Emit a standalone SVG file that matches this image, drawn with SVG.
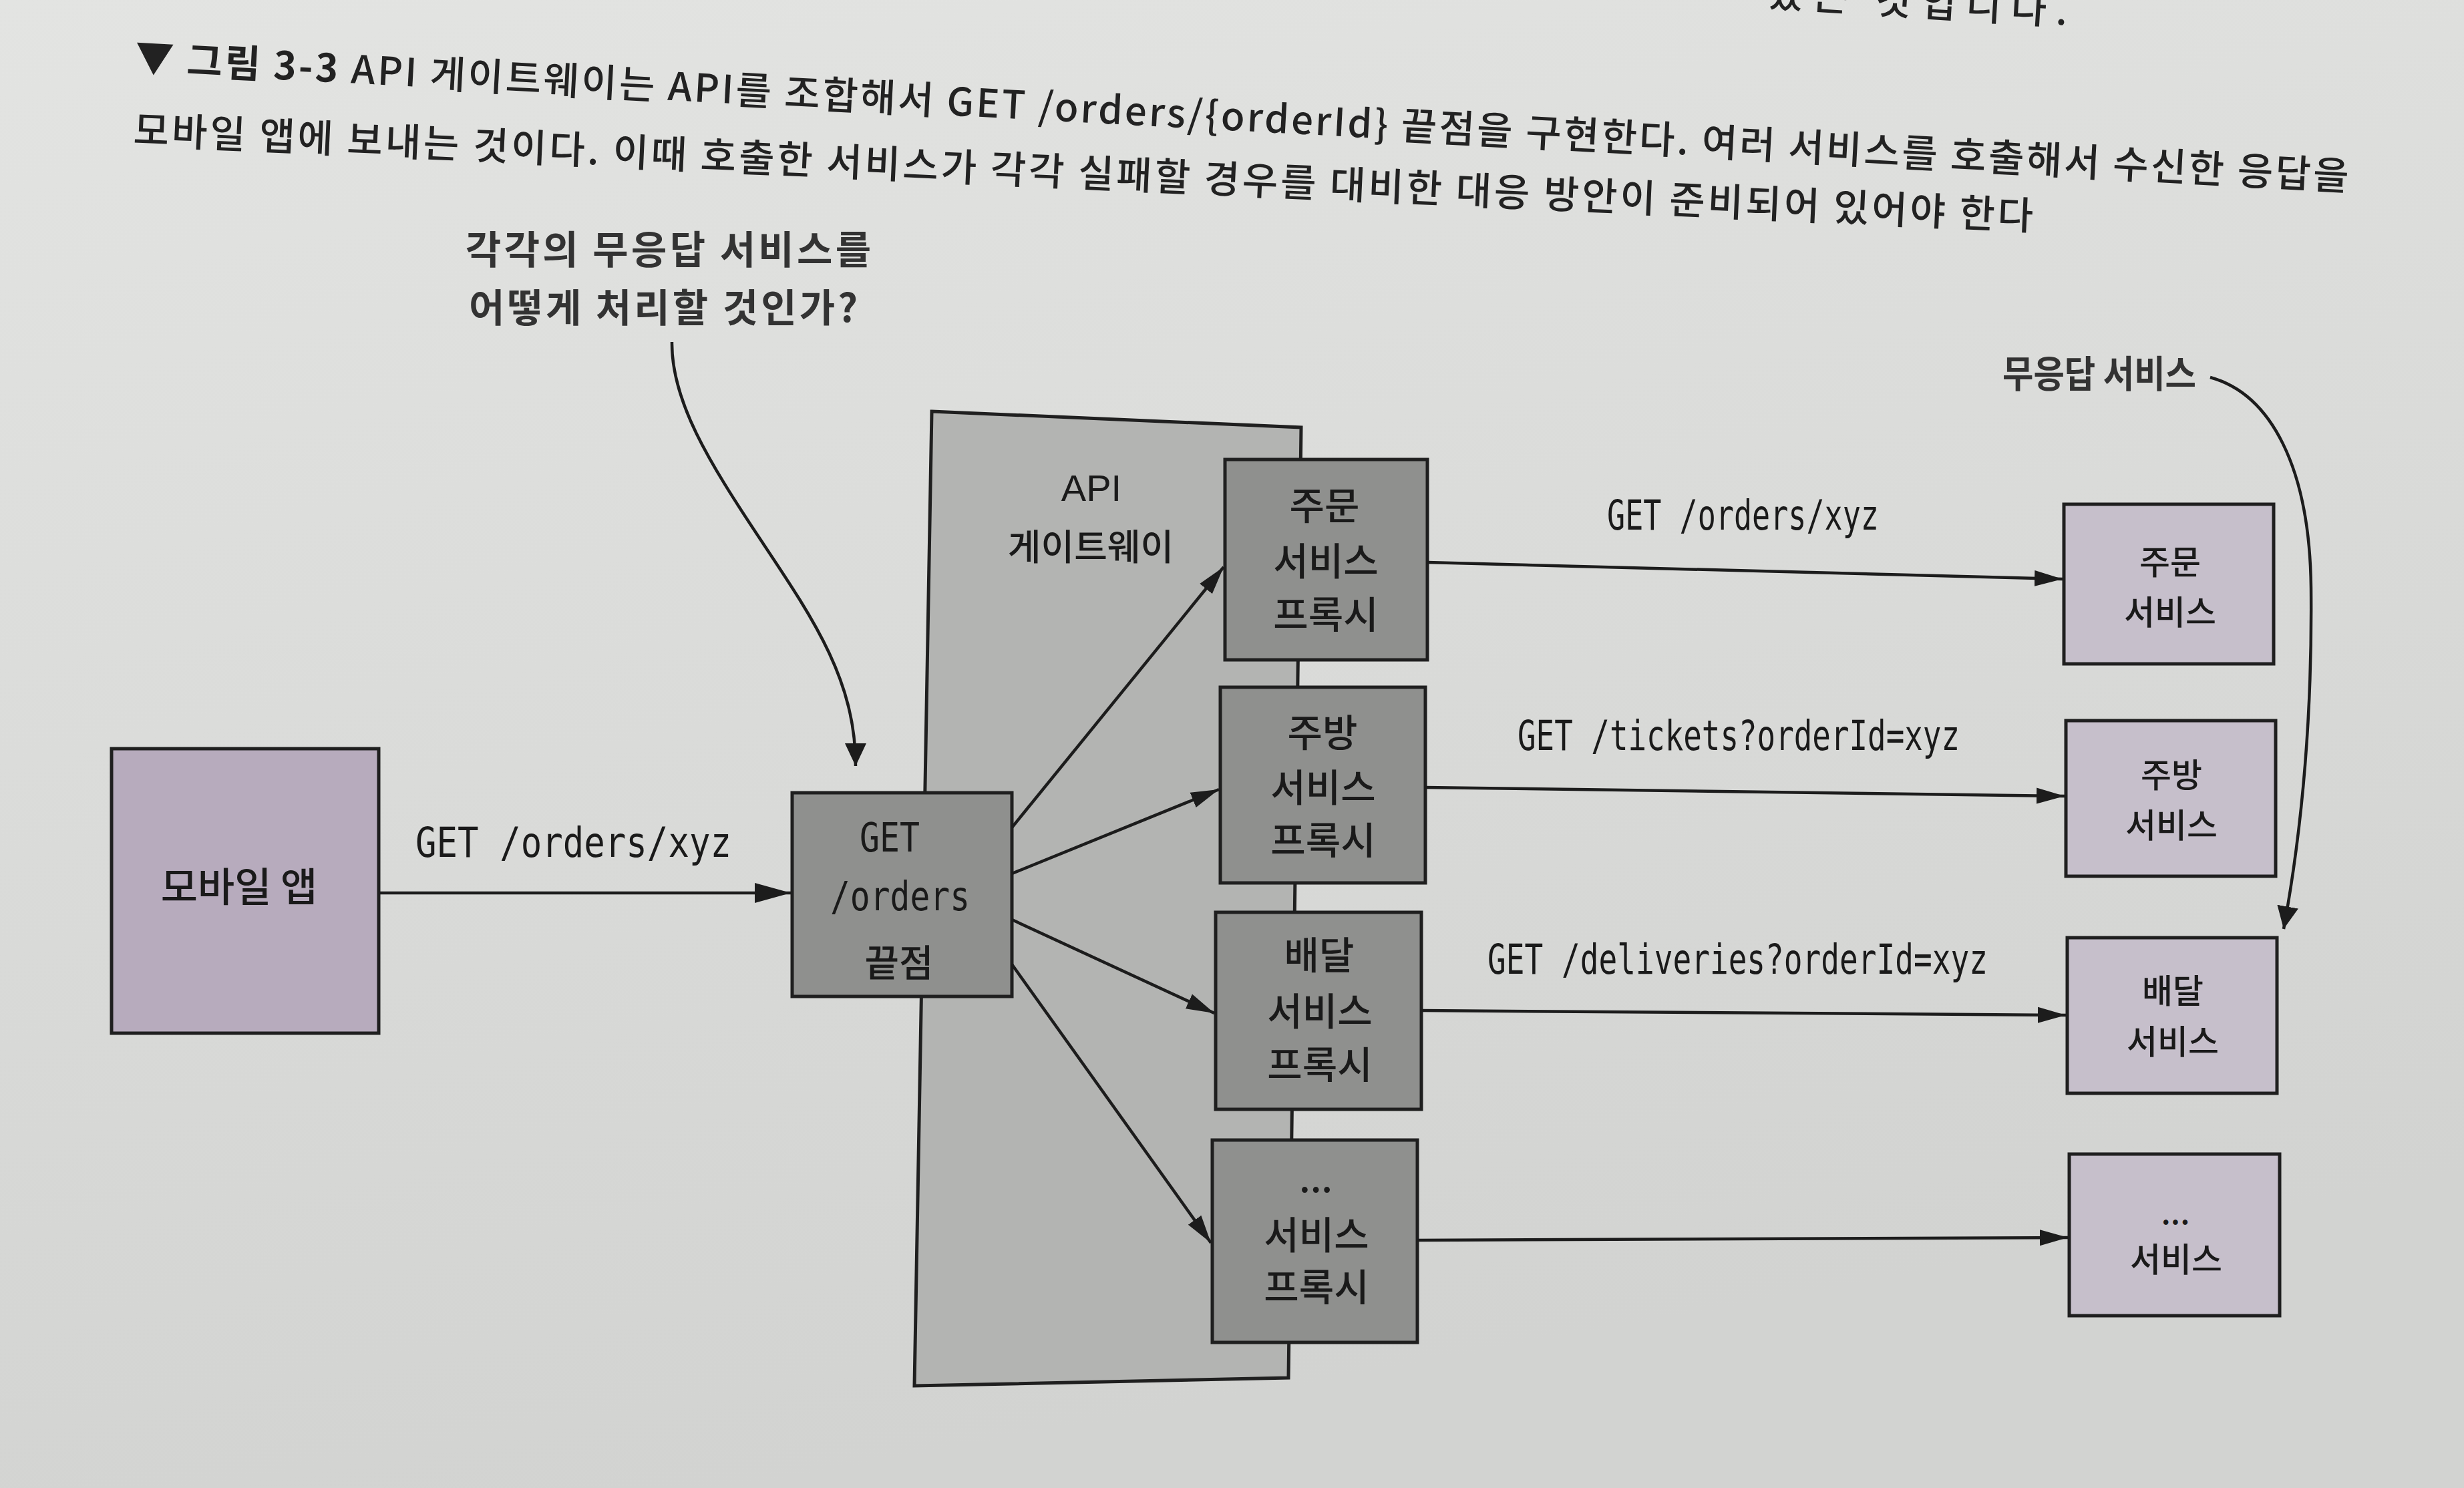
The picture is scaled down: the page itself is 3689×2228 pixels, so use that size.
<svg xmlns="http://www.w3.org/2000/svg" width="3689" height="2228" viewBox="0 0 3689 2228">
<defs>
<linearGradient id="paper" x1="0" y1="0" x2="0.3" y2="1">
<stop offset="0" stop-color="#e3e4e2"/>
<stop offset="1" stop-color="#d2d3d1"/>
</linearGradient>
<marker id="ah" markerUnits="userSpaceOnUse" markerWidth="44" markerHeight="26" refX="42" refY="13" orient="auto">
<path d="M0,1 L42,13 L0,25 z" fill="#1c1c1c"/>
</marker>
<marker id="ahBig" markerUnits="userSpaceOnUse" markerWidth="56" markerHeight="32" refX="54" refY="16" orient="auto">
<path d="M0,1 L54,16 L0,31 z" fill="#1c1c1c"/>
</marker>
<marker id="ahAnn" markerUnits="userSpaceOnUse" markerWidth="36" markerHeight="34" refX="34" refY="17" orient="auto">
<path d="M0,1 L34,17 L0,33 z" fill="#1c1c1c"/>
</marker>
<style>
.cap{font-family:"Noto Sans CJK KR","Noto Sans",sans-serif;font-size:58px;font-weight:500;fill:#222}
.capb{font-weight:700}
.ann{font-family:"Noto Sans CJK KR","Noto Sans",sans-serif;font-weight:700;fill:#333;dominant-baseline:central}
.mono{font-family:"DejaVu Sans Mono","Liberation Mono",monospace;fill:#1a1a1a}
.kr{font-family:"Noto Sans CJK KR","Noto Sans",sans-serif;font-weight:500;fill:#1a1a1a;text-anchor:middle;dominant-baseline:central}
.box{stroke:#1f1f1f;stroke-width:5}
.gray{fill:#8f908e}
.lav{fill:#c6bfcb}
.mob{fill:#b7abbd}
.panel{fill:#b3b4b2;stroke:#1f1f1f;stroke-width:5}
.conn{stroke:#1c1c1c;stroke-width:4.5;fill:none}
</style>
</defs>
<rect x="0" y="0" width="3689" height="2228" fill="url(#paper)"/>

<g id="caption">
<text class="cap" x="2645" y="10" textLength="450" transform="rotate(3.5 2645 10)">있는 것입니다.</text>
<text class="cap" x="201" y="107" textLength="3319" transform="rotate(3.07 201 107)"><tspan class="capb">▼ 그림 3-3</tspan> API 게이트웨이는 API를 조합해서 GET /orders/{orderId} 끝점을 구현한다. 여러 서비스를 호출해서 수신한 응답을</text>
<text class="cap" x="199" y="215" textLength="2847" transform="rotate(2.6 199 215)">모바일 앱에 보내는 것이다. 이때 호출한 서비스가 각각 실패할 경우를 대비한 대응 방안이 준비되어 있어야 한다</text>
</g>

<g id="note-each">
<text class="ann" x="697" y="370" font-size="58" textLength="607">각각의 무응답 서비스를</text>
<text class="ann" x="702" y="457" font-size="58" textLength="582">어떻게 처리할 것인가?</text>
</g>

<g id="note-unresponsive">
<text class="ann" x="2998" y="555" font-size="56" textLength="290" lengthAdjust="spacingAndGlyphs">무응답 서비스</text>
</g>

<g id="api-gateway">
<polygon class="panel" points="1395,616 1948,640 1929,2063 1369,2075"/>
<text class="kr" x="1634" y="730" font-size="56" style="font-family:'Liberation Sans','Noto Sans',sans-serif;font-weight:400">API</text>
<text class="kr" x="1633" y="815" font-size="54">게이트웨이</text>
</g>

<g id="mobile-app">
<rect class="box mob" x="167" y="1121" width="400" height="426"/>
<text class="kr" x="358" y="1323" font-size="60">모바일 앱</text>
</g>

<g id="get-orders-endpoint">
<rect class="box gray" x="1186" y="1187" width="329" height="305"/>
<text class="mono" x="1287" y="1275" font-size="60" textLength="90" lengthAdjust="spacingAndGlyphs">GET</text>
<text class="mono" x="1243" y="1363" font-size="60" textLength="209" lengthAdjust="spacingAndGlyphs">/orders</text>
<text class="kr" x="1346" y="1437" font-size="56">끝점</text>
</g>

<g id="order-proxy">
<rect class="box gray" x="1834" y="688" width="303" height="300"/>
<text class="kr" x="1983" y="753" font-size="57">주문</text>
<text class="kr" x="1985" y="836" font-size="57">서비스</text>
<text class="kr" x="1985" y="916" font-size="57">프록시</text>
</g>

<g id="kitchen-proxy">
<rect class="box gray" x="1827" y="1029" width="307" height="293"/>
<text class="kr" x="1980" y="1093" font-size="57">주방</text>
<text class="kr" x="1981" y="1175" font-size="57">서비스</text>
<text class="kr" x="1981" y="1254" font-size="57">프록시</text>
</g>

<g id="delivery-proxy">
<rect class="box gray" x="1820" y="1366" width="308" height="295"/>
<text class="kr" x="1975" y="1426" font-size="57">배달</text>
<text class="kr" x="1976" y="1510" font-size="57">서비스</text>
<text class="kr" x="1976" y="1590" font-size="57">프록시</text>
</g>

<g id="etc-proxy">
<rect class="box gray" x="1815" y="1707" width="307" height="303"/>
<text class="kr" x="1970" y="1760" font-size="56">...</text>
<text class="kr" x="1971" y="1845" font-size="57">서비스</text>
<text class="kr" x="1971" y="1923" font-size="57">프록시</text>
</g>

<g id="order-service">
<rect class="box lav" x="3090" y="755" width="314" height="239"/>
<text class="kr" x="3249" y="838" font-size="50">주문</text>
<text class="kr" x="3249" y="913" font-size="50">서비스</text>
</g>

<g id="kitchen-service">
<rect class="box lav" x="3093" y="1079" width="314" height="233"/>
<text class="kr" x="3251" y="1157" font-size="50">주방</text>
<text class="kr" x="3251" y="1232" font-size="50">서비스</text>
</g>

<g id="delivery-service">
<rect class="box lav" x="3095" y="1404" width="314" height="233"/>
<text class="kr" x="3253" y="1480" font-size="50">배달</text>
<text class="kr" x="3253" y="1556" font-size="50">서비스</text>
</g>

<g id="etc-service">
<rect class="box lav" x="3098" y="1728" width="315" height="242"/>
<text class="kr" x="3257" y="1812" font-size="48">...</text>
<text class="kr" x="3258" y="1882" font-size="50">서비스</text>
</g>

<g id="connectors">
<line class="conn" x1="567" y1="1337" x2="1184" y2="1337" stroke-width="6" marker-end="url(#ahBig)"/>
<text class="mono" x="622" y="1283" font-size="62" textLength="473" lengthAdjust="spacingAndGlyphs">GET /orders/xyz</text>

<line class="conn" x1="1515" y1="1239" x2="1832" y2="849" marker-end="url(#ah)"/>
<line class="conn" x1="1515" y1="1308" x2="1825" y2="1182" marker-end="url(#ah)"/>
<line class="conn" x1="1515" y1="1377" x2="1818" y2="1517" marker-end="url(#ah)"/>
<line class="conn" x1="1515" y1="1444" x2="1813" y2="1861" marker-end="url(#ah)"/>

<line class="conn" x1="2137" y1="842" x2="3088" y2="867" marker-end="url(#ah)"/>
<text class="mono" x="2406" y="793" font-size="62" textLength="407" lengthAdjust="spacingAndGlyphs">GET /orders/xyz</text>
<line class="conn" x1="2134" y1="1179" x2="3091" y2="1192" marker-end="url(#ah)"/>
<text class="mono" x="2272" y="1123" font-size="62" textLength="662" lengthAdjust="spacingAndGlyphs">GET /tickets?orderId=xyz</text>
<line class="conn" x1="2128" y1="1513" x2="3093" y2="1520" marker-end="url(#ah)"/>
<text class="mono" x="2227" y="1458" font-size="62" textLength="749" lengthAdjust="spacingAndGlyphs">GET /deliveries?orderId=xyz</text>
<line class="conn" x1="2122" y1="1857" x2="3096" y2="1853" marker-end="url(#ah)"/>

<path class="conn" stroke-width="4" d="M1006,512 C1005,600 1060,690 1140,810 C1220,930 1281,1020 1281,1147" marker-end="url(#ahAnn)"/>
<path class="conn" stroke-width="4" d="M3309,565 C3400,590 3458,700 3460,880 C3462,1080 3445,1250 3419,1391" marker-end="url(#ahAnn)"/>
</g>
</svg>
